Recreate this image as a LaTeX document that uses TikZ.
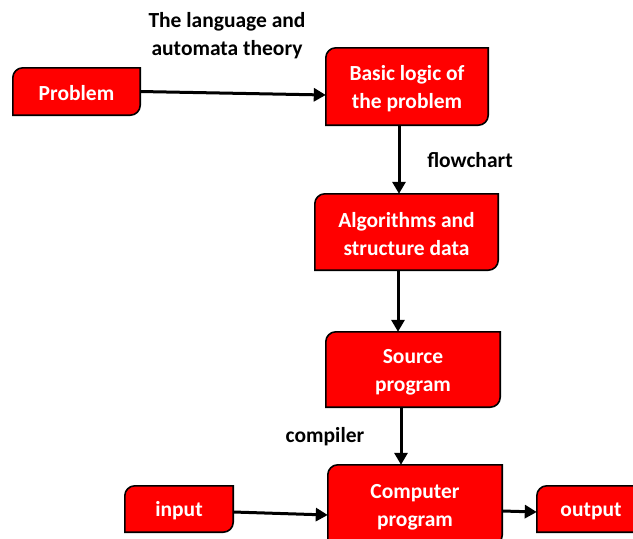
\documentclass[tikz,border=0pt]{standalone}
\usepackage{fontspec}
\setmainfont{Carlito}
\usetikzlibrary{arrows.meta,calc}
\tikzset{
  box/.style={minimum width=#1, inner sep=0pt, align=center, text=white,
    font=\fontsize{21.5}{28}\selectfont\bfseries},
  lbl/.style={inner sep=0pt, align=center, text=black,
    font=\fontsize{21.5}{28}\selectfont\bfseries},
  arr/.style={line width=3pt, -{Triangle[length=12pt,width=13pt]}},
  shapefill/.style={fill=red, draw=black, line width=1.6pt},
}
\newcommand{\diagbox}[1]{%
  \path[shapefill] ([yshift=-10pt]#1.north west) arc[start angle=180,end angle=90,radius=10pt]
    -- (#1.north east) -- ([yshift=10pt]#1.south east)
    arc[start angle=0,end angle=-90,radius=10pt] -- (#1.south west) -- cycle;}
\begin{document}
\begin{tikzpicture}[x=1pt,y=1pt]
\useasboundingbox (0,0) rectangle (633,-539);
\node[box=127pt, minimum height=47pt] (prob) at (76.5,-91.5) {};
\node[box=162pt, minimum height=77pt] (basic) at (407,-86.5) {};
\node[box=183pt, minimum height=76pt] (algo) at (406.5,-232) {};
\node[box=174pt, minimum height=75pt] (src) at (413,-369.5) {};
\node[box=174pt, minimum height=80pt] (comp) at (415,-505) {};
\node[box=108pt, minimum height=46pt] (inp) at (179,-509) {};
\node[box=108pt, minimum height=46pt] (outp) at (591,-509) {};
\foreach \n in {prob,basic,algo,src,comp,inp,outp}{\diagbox{\n}}
\node[box=127pt] at ([yshift=-2pt]prob) {Problem};
\node[box=162pt] at ([yshift=-2pt]basic) {Basic logic of\\the problem};
\node[box=183pt] at ([yshift=-2pt]algo) {Algorithms and\\structure data};
\node[box=174pt] at ([yshift=-3pt]src) {Source\\program};
\node[box=174pt] at ([yshift=-2pt]comp) {Computer\\program};
\node[box=108pt] at ([yshift=-2pt]inp) {input};
\node[box=108pt] at ([yshift=-2pt]outp) {output};
\node[lbl] (lang) at (227,-36) {The language and\\automata theory};
\node[lbl] (flow) at (470,-160) {flowchart};
\node[lbl] (compl) at (325,-437) {compiler};
\draw[arr] (prob.east) -- ([yshift=-8.5pt]basic.west);
\draw[arr] ([xshift=-8pt]basic.south) -- ([xshift=-7.5pt]algo.north);
\draw[arr] ([xshift=-8.5pt]algo.south) -- ([xshift=-15pt]src.north);
\draw[arr] ([xshift=-12pt]src.south) -- ([xshift=-14pt]comp.north);
\draw[arr] ([yshift=-3pt]inp.east) -- ([yshift=-10pt]comp.west);
\draw[arr] ([yshift=-6pt]comp.east) -- ([yshift=-3pt]outp.west);
\end{tikzpicture}
\end{document}
